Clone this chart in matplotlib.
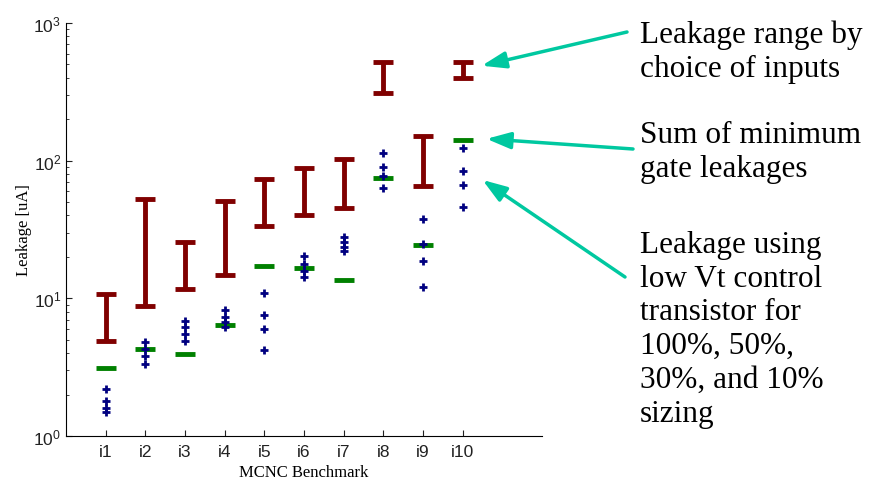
import matplotlib
matplotlib.use("Agg")
import matplotlib.pyplot as plt
import numpy as np

# benchmark names and values (uA)
benchmarks = ['i1', 'i2', 'i3', 'i4', 'i5', 'i6', 'i7', 'i8', 'i9', 'i10']
range_low = [4.9, 8.8, 11.7, 14.8, 33.7, 40.5, 45.3, 311, 65.5, 400]
range_high = [10.7, 52.6, 25.6, 51, 73.6, 88.5, 102, 520, 151, 520]
min_gate_sum = [3.12, 4.25, 3.91, 6.35, 17.2, 16.5, 13.6, 75.2, 24.4, 141]
# low Vt control transistor sizing: 100%, 50%, 30%, 10%
lowvt_100 = [2.21, 4.83, 6.86, 8.2, 11.0, 20.4, 27.7, 114, 37.5, 124]
lowvt_50 = [1.80, 4.27, 6.14, 7.26, 7.6, 17.7, 25.8, 89.5, 24.8, 84.6]
lowvt_30 = [1.61, 3.82, 5.49, 6.68, 5.97, 15.9, 23.7, 77.8, 18.7, 66.9]
lowvt_10 = [1.49, 3.36, 4.91, 6.14, 4.2, 14.4, 21.9, 63, 12.1, 46]

x = np.arange(1, len(benchmarks) + 1)
half = 0.25

plt.rcParams['mathtext.fontset'] = 'custom'
plt.rcParams['mathtext.rm'] = 'Liberation Sans'

fig = plt.figure(figsize=(8.71, 4.89), dpi=100)
ax = fig.add_axes([0.0758, 0.1063, 0.5465, 0.8447])

# leakage range by input choice
red = '#800000'
ax.vlines(x, range_low, range_high, color=red, lw=3.5)
ax.hlines(range_low, x - half, x + half, color=red, lw=3.5)
ax.hlines(range_high, x - half, x + half, color=red, lw=3.5)

# sum of minimum gate leakages
ax.hlines(min_gate_sum, x - half, x + half, color='#008000', lw=3.5)

# low Vt points
for vals in [lowvt_100, lowvt_50, lowvt_30, lowvt_10]:
    ax.plot(x, vals, '+', color='#000080', ms=6, mew=2)

ax.set_yscale('log')
ax.set_ylim(1, 1000)
ax.set_xlim(0, 12)
ax.set_xticks(x)
ax.set_xticklabels(benchmarks)
for s in ['top', 'right']:
    ax.spines[s].set_visible(False)
ax.tick_params(which='both', direction='in', colors='#222222', labelsize=12.5)
ax.tick_params(which='major', length=4)
ax.tick_params(which='minor', length=2.5)
ax.tick_params(axis='x', pad=6)
for lab in ax.get_xticklabels() + ax.get_yticklabels():
    lab.set_fontfamily('Liberation Sans')

ax.set_xlabel('MCNC Benchmark', family='Liberation Serif', fontsize=12, labelpad=3)
ax.set_ylabel('Leakage [uA]', family='Liberation Serif', fontsize=12, labelpad=1)

# annotations on the right
teal = '#00c8a0'
arrow = dict(arrowstyle='-|>,head_length=1.45,head_width=0.5', lw=2.5,
             color=teal, shrinkA=0, shrinkB=0)
ax.annotate('', xy=(10.48, 489), xycoords='data',
            xytext=(627, 456), textcoords='figure pixels', arrowprops=arrow)
ax.annotate('', xy=(10.6, 144), xycoords='data',
            xytext=(633, 339), textcoords='figure pixels', arrowprops=arrow)
ax.annotate('', xy=(10.5, 72.4), xycoords='data',
            xytext=(625, 211), textcoords='figure pixels', arrowprops=arrow)

# baseline of the last line of each note, pixels from top
notes = [
    (77, 'Leakage range by\nchoice of inputs'),
    (177, 'Sum of minimum\ngate leakages'),
    (422, 'Leakage using\nlow Vt control\ntransistor for\n100%, 50%,\n30%, and 10%\nsizing'),
]
for ypix, txt in notes:
    fig.text(640 / 871, (489 - ypix) / 489, txt, family='Liberation Serif', fontsize=22.5,
             ha='left', va='baseline', linespacing=1.22, color='black')

fig.savefig('out.png', dpi=100)
